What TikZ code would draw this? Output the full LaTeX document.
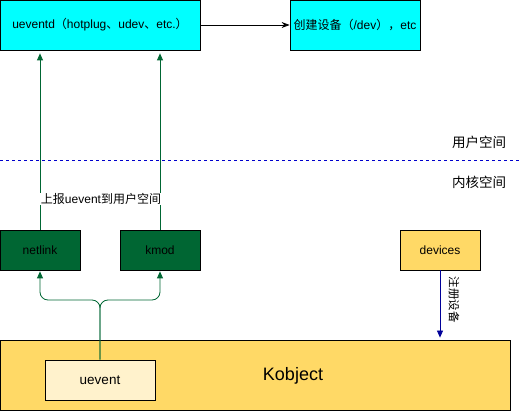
\documentclass[tikz,border=0pt]{standalone}
\usepackage{fontspec}
\setmainfont{Liberation Sans}
\newfontfamily\cjk{Noto Sans CJK SC}
\usetikzlibrary{arrows.meta}
\definecolor{aqua}{HTML}{00FFFF}
\definecolor{dgreen}{HTML}{006633}
\definecolor{ylw}{HTML}{FFD966}
\definecolor{lylw}{HTML}{FFF2CC}
\definecolor{navy}{HTML}{000099}
\definecolor{dblue}{HTML}{0000CC}
\tikzset{
  box/.style={draw=black, line width=0.8pt, minimum width=80pt, minimum height=40pt, inner sep=0pt, font=\fontsize{12}{14}\selectfont},
  garrow/.style={draw=dgreen, line width=0.8pt, -{Triangle[length=7pt,width=6pt]}},
  lbl/.style={font=\fontsize{12}{14}\selectfont, inner sep=0pt},
}
\begin{document}
\begin{tikzpicture}[x=1pt,y=-1pt]
\useasboundingbox (0,0) rectangle (522,411);
% top boxes
\node[box, fill=aqua, minimum width=200pt, minimum height=50pt] (ueventd) at (100,25)
  {ueventd{\cjk （}hotplug{\cjk 、}udev{\cjk 、}etc.{\cjk ）}};
\node[box, fill=aqua, minimum width=130pt, minimum height=50pt] (create) at (355,25)
  {{\cjk 创建设备（}/dev{\cjk ），}etc};
\draw[line width=0.8pt, -{Stealth[length=8pt,width=6pt]}] (ueventd.east) -- (create.west);
% divider
\coordinate (dl) at (0,160);
\coordinate (dr) at (522,160);
\draw[dblue, line width=0.8pt, dash pattern=on 3pt off 3pt] (dl) -- (dr);
\node[lbl, font=\fontsize{13.5}{15}\selectfont\cjk] (userspace) at (479,142) {用户空间};
\node[lbl, font=\fontsize{13.5}{15}\selectfont\cjk] (kernelspace) at (479,182) {内核空间};
% kernel boxes
\node[box, fill=dgreen] (netlink) at (40,250) {netlink};
\node[box, fill=dgreen] (kmod) at (160,250) {kmod};
\node[box, fill=ylw] (devices) at (440,250) {devices};
\node[box, fill=ylw, minimum width=510pt, minimum height=70pt] (kobj) at (255,375) {};
\node[lbl, font=\fontsize{18}{20}\selectfont] (kobjlbl) at (293,376) {Kobject};
\node[box, fill=lylw, minimum width=110pt, font=\fontsize{13.5}{15}\selectfont] (uevent) at (100,380) {uevent};
% report arrows
\draw[garrow, shorten >=3pt] (netlink.north) -- (netlink.north |- ueventd.south);
\draw[garrow, shorten >=3pt] (kmod.north) -- (kmod.north |- ueventd.south);
\node[lbl, fill=white, inner xsep=1pt] (report) at (101,199) {{\cjk 上报}uevent{\cjk 到用户空间}};
% fork
\coordinate (fork) at (uevent.north |- 0,300);
\draw[garrow, rounded corners=8pt, shorten >=1pt] (uevent.north) -- (fork) -| (netlink.south);
\draw[garrow, rounded corners=8pt, shorten >=1pt] (uevent.north) -- (fork) -| (kmod.south);
% register
\draw[navy, line width=0.8pt, -{Triangle[length=7pt,width=6pt]}, shorten >=2pt] (devices.south) -- (devices.south |- kobj.north);
\node[lbl, rotate=-90, font=\fontsize{11.5}{13}\selectfont\cjk] (reg) at (454,300) {注册设备};
\end{tikzpicture}
\end{document}
